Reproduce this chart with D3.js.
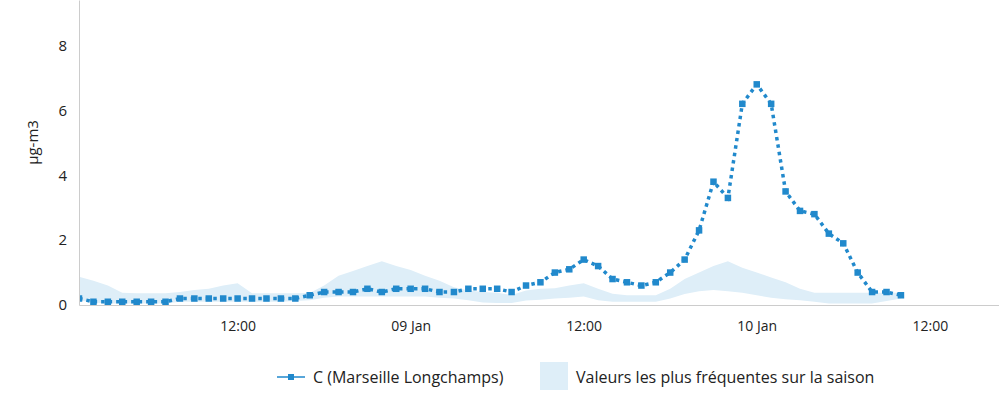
<!DOCTYPE html>
<html>
<head>
<meta charset="utf-8">
<script src="https://cdn.jsdelivr.net/npm/d3@7"></script>
<style>
body { margin:0; background:#fff; }
svg text { font-family: "Open Sans", "DejaVu Sans", sans-serif; fill:#222; }
</style>
</head>
<body>
<svg id="chart" width="999" height="397"></svg>
<script>

// hourly measurements, first one at 08 Jan 01:00
var startTime = Date.UTC(2024, 0, 8, 1);
var serieName = "C (Marseille Longchamps)";
var bandName = "Valeurs les plus fréquentes sur la saison";
var unitLabel = "µg-m3";

var valeurs = [0.2,0.1,0.1,0.1,0.1,0.1,0.1,0.2,0.2,0.2,
	0.2,0.2,0.2,0.2,0.2,0.2,0.3,0.4,0.4,0.4,
	0.5,0.4,0.5,0.5,0.5,0.4,0.4,0.5,0.5,0.5,
	0.4,0.6,0.7,1.0,1.1,1.4,1.2,0.8,0.7,0.6,
	0.7,1.0,1.4,2.3,3.8,3.3,6.2,6.8,6.2,3.5,
	2.9,2.8,2.2,1.9,1.0,0.4,0.4,0.3];

var bandeHaut = [0.87,0.75,0.6,0.38,0.36,0.36,0.36,0.4,0.46,0.5,
	0.6,0.67,0.36,0.36,0.36,0.36,0.37,0.6,0.9,1.05,
	1.2,1.35,1.2,1.08,0.9,0.75,0.55,0.45,0.4,0.38,
	0.31,0.45,0.5,0.52,0.6,0.67,0.5,0.35,0.3,0.3,
	0.3,0.5,0.8,1.0,1.2,1.35,1.15,1.0,0.85,0.7,
	0.5,0.38,0.38,0.38,0.38,0.38,0.38,0.38];

var bandeBas = [0.15,0.08,0.05,0.05,0.05,0.05,0.05,0.1,0.1,0.1,
	0.1,0.1,0.1,0.1,0.1,0.12,0.15,0.22,0.26,0.26,
	0.26,0.26,0.26,0.26,0.26,0.22,0.2,0.15,0.08,0.06,
	0.06,0.14,0.16,0.2,0.22,0.26,0.15,0.1,0.1,0.1,
	0.1,0.2,0.34,0.42,0.46,0.42,0.38,0.3,0.22,0.18,
	0.15,0.1,0.05,0.05,0.05,0.05,0.12,0.2];

var yTicks = [0,2,4,6,8];
var moisCourt = ["Jan","Feb","Mar","Apr","May","Jun","Jul","Aug","Sep","Oct","Nov","Dec"];

var bleu = "#2189cc";
var bleuClair = "#deeef8";

var svg = d3.select("#chart");
var gauche = 79, droite = 999, haut = 0, bas = 305;

var x = d3.scaleUtc()
	.domain([new Date(startTime), new Date(startTime + 63.8*3600000)])
	.range([gauche, droite]);
var y = d3.scaleLinear().domain([0, 9.4]).range([bas, haut]);

function heure(i){ return new Date(startTime + i*3600000); }

var rows = valeurs.map(function(v, i){
	return {t: heure(i), v: v, lo: bandeBas[i], hi: bandeHaut[i]};
});

svg.append("clipPath").attr("id", "zone")
	.append("rect").attr("x", gauche).attr("y", haut)
	.attr("width", droite - gauche).attr("height", bas - haut + 5);

var plot = svg.append("g").attr("clip-path", "url(#zone)");

// band of usual values
plot.append("path")
	.datum(rows)
	.attr("fill", bleuClair)
	.attr("d", d3.area()
		.x(function(d){ return x(d.t); })
		.y0(function(d){ return y(d.lo); })
		.y1(function(d){ return y(d.hi); }));

// axes
var xAxis = d3.axisBottom(x)
	.ticks(d3.utcHour.every(12))
	.tickSize(0)
	.tickPadding(16)
	.tickFormat(function(d){
		if(d.getUTCHours() == 0){
			var dd = d.getUTCDate();
			return (dd < 10 ? "0"+dd : dd) + " " + moisCourt[d.getUTCMonth()];
		}
		return d3.utcFormat("%H:%M")(d);
	});
var gx = svg.append("g").attr("transform", "translate(0," + bas + ")").call(xAxis);
gx.select(".domain").attr("stroke", "#ccc");
gx.selectAll("text").attr("font-size", 14).attr("fill", "#222");

var yAxis = d3.axisLeft(y).tickValues(yTicks).tickSize(0).tickPadding(12);
var gy = svg.append("g").attr("transform", "translate(" + gauche + ",0)").call(yAxis);
gy.select(".domain").attr("stroke", "#ccc");
gy.selectAll("text").attr("font-size", 15).attr("fill", "#222");

svg.append("text")
	.attr("transform", "translate(38," + ((haut + bas)/2 - 10) + ") rotate(-90)")
	.attr("text-anchor", "middle")
	.attr("font-size", 15)
	.text(unitLabel);

// dotted serie
plot.append("path")
	.datum(rows)
	.attr("fill", "none")
	.attr("stroke", bleu)
	.attr("stroke-width", 3.5)
	.attr("stroke-dasharray", "3.5,4")
	.attr("d", d3.line()
		.x(function(d){ return x(d.t); })
		.y(function(d){ return y(d.v); }));

plot.append("g").selectAll("rect")
	.data(rows)
	.join("rect")
	.attr("x", function(d){ return x(d.t) - 3.25; })
	.attr("y", function(d){ return y(d.v) - 3.25; })
	.attr("width", 6.5)
	.attr("height", 6.5)
	.attr("fill", bleu);

// legend
var leg = svg.append("g");
leg.append("line").attr("x1", 277).attr("x2", 305).attr("y1", 377).attr("y2", 377)
	.attr("stroke", bleu).attr("stroke-width", 1.5);
leg.append("rect").attr("x", 288).attr("y", 374).attr("width", 6).attr("height", 6).attr("fill", bleu);
leg.append("text").attr("x", 313).attr("y", 383).attr("font-size", 16).text(serieName);

leg.append("rect").attr("x", 540).attr("y", 362).attr("width", 28).attr("height", 28).attr("fill", bleuClair);
leg.append("text").attr("x", 576).attr("y", 383).attr("font-size", 16).text(bandName);

</script>
</body>
</html>
